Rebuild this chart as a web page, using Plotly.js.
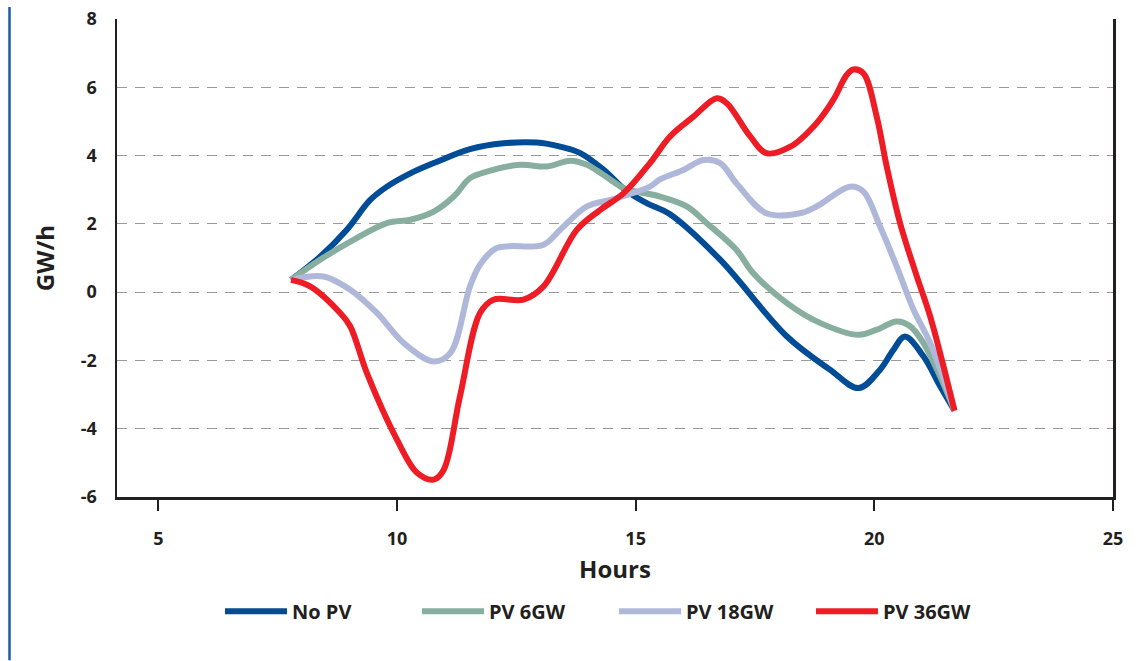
<!DOCTYPE html>
<html>
<head>
<meta charset="utf-8">
<script src="https://cdn.plot.ly/plotly-3.0.1.min.js"></script>
<style>
  html, body { margin: 0; padding: 0; background: #fff; }
  #chart { width: 1146px; height: 661px; }
</style>
</head>
<body>
<div id="chart"></div>
<script>
// Series names
const seriesNames = ["No PV", "PV 6GW", "PV 18GW", "PV 36GW"];

// No PV
const noPvHours = [7.78, 8.39, 8.95, 9.44, 9.79, 10.28, 10.84, 11.53, 12.23, 12.93, 13.42, 13.84, 14.33, 14.82, 15.23, 15.72, 16.77, 18.17, 19.07, 19.67, 20.12, 20.40, 20.64, 21.03, 21.38, 21.68];
const noPvValues = [0.36, 1.04, 1.83, 2.70, 3.09, 3.48, 3.82, 4.19, 4.36, 4.38, 4.26, 4.07, 3.58, 2.95, 2.61, 2.28, 0.95, -1.30, -2.27, -2.81, -2.27, -1.69, -1.30, -1.88, -2.76, -3.47];

// PV 6GW
const pv6Hours = [7.78, 8.39, 9.09, 9.79, 10.28, 10.77, 11.19, 11.53, 11.88, 12.58, 13.14, 13.63, 13.98, 14.33, 14.75, 15.03, 15.51, 16.07, 16.49, 17.11, 17.46, 18.17, 18.86, 19.67, 20.05, 20.47, 20.75, 21.03, 21.38, 21.68];
const pv6Values = [0.36, 0.95, 1.53, 2.02, 2.12, 2.36, 2.80, 3.34, 3.53, 3.73, 3.68, 3.85, 3.73, 3.43, 3.05, 2.94, 2.80, 2.51, 2.02, 1.24, 0.56, -0.32, -0.90, -1.25, -1.10, -0.86, -1.00, -1.49, -2.47, -3.47];

// PV 18GW
const pv18Hours = [7.78, 8.46, 9.02, 9.58, 10.14, 10.77, 11.12, 11.53, 11.74, 12.09, 13.07, 13.42, 13.98, 14.47, 14.82, 15.30, 15.51, 16.00, 16.42, 16.77, 17.11, 17.74, 18.44, 18.79, 19.49, 19.77, 20.12, 20.47, 20.82, 21.17, 21.68];
const pv18Values = [0.36, 0.46, 0.07, -0.61, -1.49, -2.03, -1.78, 0.17, 0.80, 1.29, 1.39, 1.83, 2.51, 2.70, 2.85, 3.09, 3.30, 3.58, 3.87, 3.78, 3.19, 2.31, 2.31, 2.51, 3.09, 2.95, 1.92, 0.75, -0.51, -1.49, -3.47];

// PV 36GW
const pv36Hours = [7.78, 8.18, 8.81, 9.02, 9.37, 10.00, 10.42, 10.77, 10.98, 11.32, 11.74, 12.02, 12.65, 13.07, 13.77, 14.26, 14.75, 15.30, 15.72, 16.21, 16.70, 16.91, 17.40, 17.74, 18.24, 18.79, 19.14, 19.42, 19.56, 19.77, 20.05, 20.26, 20.54, 20.89, 21.17, 21.68];
const pv36Values = [0.36, 0.17, -0.61, -1.00, -2.37, -4.32, -5.29, -5.49, -5.20, -3.05, -0.61, -0.22, -0.22, 0.17, 1.83, 2.41, 2.90, 3.78, 4.56, 5.14, 5.68, 5.53, 4.56, 4.07, 4.26, 4.95, 5.63, 6.36, 6.52, 6.41, 5.14, 3.68, 2.02, 0.46, -0.71, -3.47];

// Axis ticks
const xTickVals = [5, 10, 15, 20, 25];
const yTickVals = [-6, -4, -2, 0, 2, 4, 6, 8];

const colors = ["#004c97", "#87ae9f", "#b0b8da", "#ee1c25"];
const allX = [noPvHours, pv6Hours, pv18Hours, pv36Hours];
const allY = [noPvValues, pv6Values, pv18Values, pv36Values];

const FONT = "'Open Sans', 'Noto Sans', sans-serif";
const TXT = "#231f20";

const traces = seriesNames.map((name, i) => ({
  type: "scatter",
  mode: "lines",
  name: name,
  x: allX[i],
  y: allY[i],
  line: { color: colors[i], width: 6, shape: "spline", smoothing: 1 }
}));

const layout = {
  width: 1146,
  height: 661,
  margin: { l: 117, r: 33, t: 19, b: 164 },
  paper_bgcolor: "#ffffff",
  plot_bgcolor: "#ffffff",
  showlegend: true,
  font: { family: FONT, color: TXT },
  xaxis: {
    range: [4.135, 25],
    tickvals: xTickVals,
    ticktext: xTickVals.map(String),
    ticks: "outside",
    ticklen: 11,
    tickwidth: 2,
    tickcolor: TXT,
    ticklabelstandoff: 13,
    tickfont: { family: FONT, size: 18, weight: 700, color: TXT },
    showline: true,
    linecolor: TXT,
    linewidth: 2.5,
    showgrid: false,
    zeroline: false,
    title: { text: "Hours", font: { family: FONT, size: 24, weight: 700, color: TXT }, standoff: 12 }
  },
  yaxis: {
    range: [-6, 8],
    tickvals: yTickVals,
    ticktext: yTickVals.map(String),
    ticks: "",
    ticklabelstandoff: 14,
    tickfont: { family: FONT, size: 18, weight: 700, color: TXT },
    showline: true,
    mirror: true,
    linecolor: TXT,
    linewidth: 2.5,
    showgrid: true,
    gridcolor: "#9a9a9a",
    gridwidth: 1.2,
    griddash: "10px,8px",
    zeroline: false,
    title: { text: "GW/h", font: { family: FONT, size: 24, weight: 700, color: TXT }, standoff: 20 }
  },
  legend: {
    orientation: "h",
    x: (220 - 117) / 996,
    xanchor: "left",
    y: -0.239,
    yanchor: "middle",
    itemwidth: 62,
    entrywidth: 120,
    entrywidthmode: "pixels",
    font: { family: FONT, size: 20, weight: 700, color: TXT },
    bgcolor: "rgba(0,0,0,0)"
  },
  shapes: [{
    type: "line",
    xref: "paper", yref: "paper",
    x0: (9.5 - 117) / 996, x1: (9.5 - 117) / 996,
    y0: (497.5 - 7) / 478.5, y1: (497.5 - 661) / 478.5,
    line: { color: "#1f5aa6", width: 2.5 }
  }]
};

Plotly.newPlot("chart", traces, layout, { displayModeBar: false, staticPlot: true });
</script>
</body>
</html>
